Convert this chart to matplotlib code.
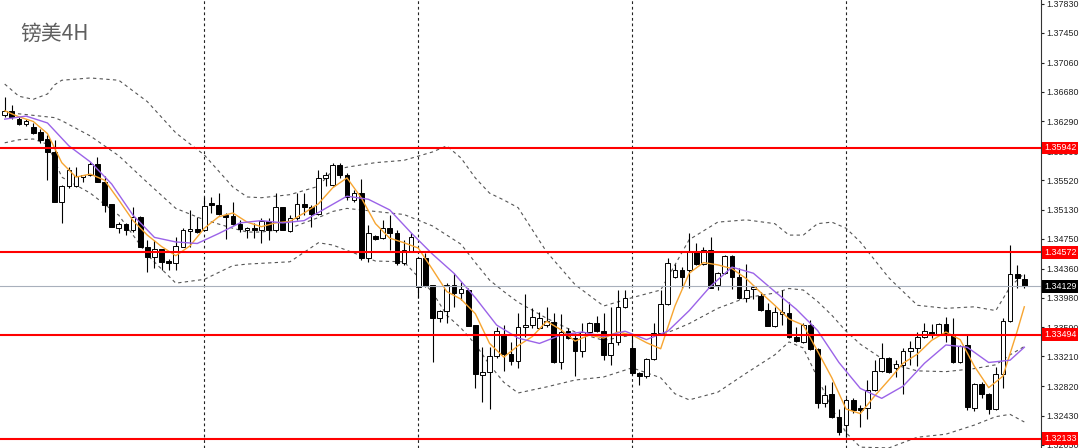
import matplotlib
matplotlib.use("Agg")
import matplotlib.pyplot as plt
from matplotlib.transforms import blended_transform_factory
import numpy as np

# --- chart data (GBP/USD, 4H bars) ---
TITLE = "镑美4H"

opens = [1.3637, 1.3643, 1.3632, 1.3626, 1.3622, 1.3615, 1.3606, 1.3589, 1.3523, 1.3544,
         1.3544, 1.3556, 1.3559, 1.3573, 1.3550, 1.3521, 1.3489, 1.3495, 1.3487, 1.3504,
         1.3464, 1.3451, 1.3462, 1.3446, 1.3443, 1.3464, 1.3485, 1.3488, 1.3487, 1.3522,
         1.3519, 1.3506, 1.3505, 1.3495, 1.3487, 1.3489, 1.3487, 1.3499, 1.3487, 1.3517,
         1.3485, 1.3502, 1.3521, 1.3517, 1.3508, 1.3555, 1.3546, 1.3572, 1.3559, 1.3526,
         1.3535, 1.3450, 1.3479, 1.3476, 1.3489, 1.3483, 1.3443, 1.3458, 1.3412, 1.3450,
         1.3415, 1.3371, 1.3380, 1.3415, 1.3404, 1.3408, 1.3362, 1.3297, 1.3300, 1.3321,
         1.3350, 1.3324, 1.3315, 1.3359, 1.3362, 1.3358, 1.3362, 1.3366, 1.3314, 1.3354,
         1.3345, 1.3328, 1.3353, 1.3365, 1.3354, 1.3323, 1.3340, 1.3386, 1.3332, 1.3299,
         1.3295, 1.3318, 1.3352, 1.3390, 1.3425, 1.3434, 1.3434, 1.3459, 1.3442, 1.3460,
         1.3415, 1.3430, 1.3453, 1.3425, 1.3398, 1.3409, 1.3400, 1.3382, 1.3361, 1.3377,
         1.3378, 1.3346, 1.3340, 1.3362, 1.3331, 1.3260, 1.3272, 1.3242, 1.3231, 1.3264,
         1.3253, 1.3253, 1.3277, 1.3302, 1.3319, 1.3306, 1.3310, 1.3328, 1.3332, 1.3346,
         1.3353, 1.3350, 1.3363, 1.3350, 1.3314, 1.3336, 1.3253, 1.3285, 1.3272, 1.3252,
         1.3298, 1.3367, 1.3429, 1.3422]
highs = [1.3661, 1.3651, 1.3635, 1.3632, 1.3627, 1.3619, 1.3611, 1.3605, 1.3546, 1.3569,
         1.3569, 1.3559, 1.3576, 1.3582, 1.3558, 1.3521, 1.3497, 1.3496, 1.3517, 1.3505,
         1.3474, 1.3474, 1.3462, 1.3449, 1.3478, 1.3489, 1.3513, 1.3504, 1.3530, 1.3530,
         1.3535, 1.3509, 1.3523, 1.3500, 1.3491, 1.3496, 1.3502, 1.3502, 1.3535, 1.3517,
         1.3506, 1.3535, 1.3535, 1.3519, 1.3565, 1.3563, 1.3575, 1.3575, 1.3561, 1.3539,
         1.3554, 1.3493, 1.3480, 1.3500, 1.3506, 1.3487, 1.3474, 1.3483, 1.3451, 1.3457,
         1.3415, 1.3382, 1.3417, 1.3430, 1.3418, 1.3410, 1.3362, 1.3333, 1.3333, 1.3359,
         1.3362, 1.3340, 1.3378, 1.3403, 1.3384, 1.3379, 1.3386, 1.3378, 1.3377, 1.3358,
         1.3352, 1.3365, 1.3366, 1.3374, 1.3378, 1.3386, 1.3408, 1.3408, 1.3349, 1.3300,
         1.3319, 1.3365, 1.3408, 1.3450, 1.3442, 1.3438, 1.3483, 1.3470, 1.3464, 1.3478,
         1.3432, 1.3454, 1.3454, 1.3437, 1.3442, 1.3415, 1.3405, 1.3391, 1.3386, 1.3408,
         1.3392, 1.3359, 1.3365, 1.3369, 1.3332, 1.3284, 1.3287, 1.3252, 1.3266, 1.3266,
         1.3257, 1.3290, 1.3316, 1.3339, 1.3320, 1.3316, 1.3332, 1.3341, 1.3353, 1.3365,
         1.3363, 1.3365, 1.3373, 1.3371, 1.3336, 1.3349, 1.3286, 1.3287, 1.3273, 1.3307,
         1.3371, 1.3467, 1.3441, 1.3429]
lows = [1.3635, 1.3632, 1.3624, 1.3623, 1.3613, 1.3601, 1.3552, 1.3523, 1.3496, 1.3542,
        1.3543, 1.3550, 1.3558, 1.3550, 1.3510, 1.3491, 1.3483, 1.3480, 1.3484, 1.3464,
        1.3432, 1.3437, 1.3434, 1.3434, 1.3434, 1.3464, 1.3464, 1.3483, 1.3485, 1.3509,
        1.3506, 1.3475, 1.3493, 1.3484, 1.3476, 1.3476, 1.3470, 1.3474, 1.3484, 1.3487,
        1.3484, 1.3500, 1.3506, 1.3491, 1.3506, 1.3544, 1.3544, 1.3555, 1.3526, 1.3523,
        1.3447, 1.3445, 1.3474, 1.3475, 1.3460, 1.3441, 1.3441, 1.3458, 1.3398, 1.3412,
        1.3314, 1.3366, 1.3365, 1.3386, 1.3395, 1.3361, 1.3280, 1.3261, 1.3252, 1.3319,
        1.3302, 1.3310, 1.3306, 1.3346, 1.3358, 1.3357, 1.3359, 1.3312, 1.3304, 1.3344,
        1.3295, 1.3320, 1.3352, 1.3353, 1.3316, 1.3310, 1.3336, 1.3384, 1.3297, 1.3284,
        1.3293, 1.3316, 1.3349, 1.3388, 1.3424, 1.3411, 1.3411, 1.3441, 1.3441, 1.3411,
        1.3408, 1.3429, 1.3409, 1.3396, 1.3392, 1.3396, 1.3380, 1.3361, 1.3359, 1.3362,
        1.3345, 1.3340, 1.3339, 1.3329, 1.3253, 1.3255, 1.3240, 1.3218, 1.3215, 1.3247,
        1.3228, 1.3239, 1.3276, 1.3300, 1.3299, 1.3294, 1.3272, 1.3310, 1.3308, 1.3345,
        1.3345, 1.3349, 1.3340, 1.3312, 1.3312, 1.3251, 1.3249, 1.3266, 1.3245, 1.3251,
        1.3280, 1.3366, 1.3411, 1.3411]
closes = [1.3643, 1.3635, 1.3626, 1.3630, 1.3614, 1.3605, 1.3589, 1.3523, 1.3544, 1.3565,
          1.3558, 1.3559, 1.3573, 1.3550, 1.3519, 1.3491, 1.3495, 1.3487, 1.3504, 1.3464,
          1.3451, 1.3462, 1.3445, 1.3443, 1.3466, 1.3487, 1.3488, 1.3484, 1.3518, 1.3519,
          1.3508, 1.3504, 1.3495, 1.3488, 1.3489, 1.3487, 1.3499, 1.3487, 1.3517, 1.3487,
          1.3502, 1.3521, 1.3517, 1.3508, 1.3555, 1.3559, 1.3572, 1.3559, 1.3530, 1.3535,
          1.3450, 1.3483, 1.3475, 1.3489, 1.3483, 1.3443, 1.3460, 1.3478, 1.3450, 1.3413,
          1.3371, 1.3380, 1.3415, 1.3404, 1.3409, 1.3361, 1.3298, 1.3300, 1.3321, 1.3354,
          1.3324, 1.3315, 1.3359, 1.3362, 1.3373, 1.3371, 1.3367, 1.3314, 1.3353, 1.3345,
          1.3328, 1.3353, 1.3365, 1.3354, 1.3323, 1.3339, 1.3386, 1.3398, 1.3299, 1.3295,
          1.3318, 1.3352, 1.3390, 1.3443, 1.3434, 1.3425, 1.3459, 1.3442, 1.3460, 1.3411,
          1.3430, 1.3453, 1.3425, 1.3398, 1.3408, 1.3412, 1.3382, 1.3361, 1.3379, 1.3379,
          1.3346, 1.3341, 1.3362, 1.3331, 1.3260, 1.3270, 1.3242, 1.3222, 1.3264, 1.3251,
          1.3251, 1.3277, 1.3302, 1.3319, 1.3300, 1.3311, 1.3328, 1.3332, 1.3346, 1.3354,
          1.3350, 1.3363, 1.3350, 1.3314, 1.3335, 1.3255, 1.3285, 1.3272, 1.3252, 1.3298,
          1.3367, 1.3429, 1.3424, 1.3413]

# Bollinger bands, read at selected bars
band_idx = [0, 2, 4, 6, 7, 8, 12, 16, 20, 24, 28, 32, 34, 36, 40, 44, 46, 48, 52, 56,
            60, 62, 64, 66, 68, 70, 72, 76, 80, 84, 88, 92, 94, 96, 100, 104, 108, 110, 112, 114,
            116, 118, 120, 124, 128, 132, 136, 139, 141, 143]
bb_upper = [1.3678, 1.3662, 1.3658, 1.3665, 1.3677, 1.3683, 1.3686, 1.3683, 1.3655, 1.3614,
            1.3585, 1.3543, 1.3530, 1.3529, 1.3533, 1.3544, 1.3565, 1.3569, 1.3575, 1.3578,
            1.3589, 1.3597, 1.3581, 1.3555, 1.3535, 1.3526, 1.3516, 1.3458, 1.3415, 1.3387,
            1.3398, 1.3408, 1.3441, 1.3474, 1.3497, 1.3500, 1.3495, 1.3480, 1.3480, 1.3495,
            1.3497, 1.3489, 1.3471, 1.3424, 1.3388, 1.3384, 1.3386, 1.3381, 1.3412, 1.3430]
bb_middle = [1.3641, 1.3639, 1.3637, 1.3635, 1.3634, 1.3630, 1.3610, 1.3584, 1.3549, 1.3515,
             1.3500, 1.3489, 1.3484, 1.3484, 1.3489, 1.3503, 1.3511, 1.3515, 1.3511, 1.3507,
             1.3492, 1.3480, 1.3468, 1.3444, 1.3421, 1.3406, 1.3392, 1.3371, 1.3353, 1.3342,
             1.3349, 1.3349, 1.3356, 1.3364, 1.3384, 1.3398, 1.3404, 1.3410, 1.3408, 1.3393,
             1.3375, 1.3354, 1.3337, 1.3312, 1.3302, 1.3301, 1.3305, 1.3310, 1.3323, 1.3334]
bb_lower = [1.3601, 1.3605, 1.3606, 1.3599, 1.3578, 1.3556, 1.3535, 1.3506, 1.3454, 1.3417,
            1.3422, 1.3440, 1.3442, 1.3443, 1.3445, 1.3470, 1.3467, 1.3460, 1.3446, 1.3445,
            1.3405, 1.3375, 1.3358, 1.3337, 1.3310, 1.3287, 1.3273, 1.3281, 1.3290, 1.3294,
            1.3306, 1.3293, 1.3272, 1.3264, 1.3274, 1.3299, 1.3323, 1.3340, 1.3332, 1.3293,
            1.3253, 1.3221, 1.3202, 1.3201, 1.3215, 1.3219, 1.3231, 1.3242, 1.3245, 1.3235]

# fast (orange) and slow (purple) moving averages
fast_idx = [0, 1, 2, 3] + list(range(4, 143, 2)) + [143]
fast_ma = [1.3643, 1.3639, 1.3635, 1.3632,
           1.3629, 1.3613, 1.3575, 1.3556, 1.3560, 1.3552, 1.3526, 1.3499, 1.3480, 1.3465,
           1.3453, 1.3466, 1.3489, 1.3504, 1.3509, 1.3497, 1.3491, 1.3496, 1.3498, 1.3509,
           1.3521, 1.3542, 1.3555, 1.3529, 1.3495, 1.3476, 1.3470, 1.3463, 1.3435, 1.3406,
           1.3396, 1.3377, 1.3338, 1.3320, 1.3335, 1.3347, 1.3367, 1.3356, 1.3341, 1.3349,
           1.3345, 1.3353, 1.3349, 1.3339, 1.3331, 1.3387, 1.3430, 1.3444, 1.3441, 1.3436,
           1.3423, 1.3405, 1.3388, 1.3370, 1.3362, 1.3328, 1.3293, 1.3252, 1.3246, 1.3269,
           1.3290, 1.3312, 1.3324, 1.3342, 1.3353, 1.3343, 1.3308, 1.3280, 1.3295, 1.3354,
           1.3386]
slow_idx = list(range(0, 142, 3)) + [143]
slow_ma = [1.3632, 1.3636, 1.3627, 1.3597, 1.3576, 1.3547, 1.3506, 1.3477, 1.3471, 1.3469,
           1.3482, 1.3496, 1.3499, 1.3496, 1.3499, 1.3515, 1.3531, 1.3527, 1.3513, 1.3483,
           1.3455, 1.3430, 1.3398, 1.3362, 1.3345, 1.3338, 1.3349, 1.3353, 1.3347, 1.3354,
           1.3343, 1.3354, 1.3381, 1.3413, 1.3438, 1.3430, 1.3406, 1.3383, 1.3355, 1.3313,
           1.3279, 1.3266, 1.3282, 1.3312, 1.3336, 1.3333, 1.3313, 1.3316, 1.3333]

# levels
red_levels = [1.35942, 1.34572, 1.33494, 1.32133]
last_price = 1.34129
separators = [28, 58, 88, 118]
price_ticks = [1.37830, 1.37450, 1.37060, 1.36680, 1.36290, 1.35900, 1.35520, 1.35130,
               1.34750, 1.34360, 1.33980, 1.33590, 1.33210, 1.32820, 1.32430, 1.32050]

# --- figure ---
W, H = 1080, 448
AX_W = 1041
fig = plt.figure(figsize=(W / 100, H / 100), dpi=100)
fig.patch.set_facecolor("white")
ax = fig.add_axes([0, 0, AX_W / W, 1])
ax.set_facecolor("white")

ax.set_xlim(-0.66, 145.34)
ax.set_ylim(1.32009, 1.37882)

for s in ("top", "left", "bottom"):
    ax.spines[s].set_visible(False)
ax.spines["right"].set_color("#333333")
ax.spines["right"].set_linewidth(0.8)

ax.set_xticks([])
ax.yaxis.tick_right()
ax.set_yticks(price_ticks)
ax.set_yticklabels([f"{t:.5f}" for t in price_ticks], family="Liberation Sans")
ax.tick_params(axis="y", length=2.5, width=0.8, pad=1.5, labelsize=6.4,
               colors="#222222")

# period separators
for s in separators:
    ax.axvline(s, color="#222222", lw=0.8, ls=(0, (2.5, 2.5)), zorder=1)

# bollinger bands
band_style = dict(color="#555555", lw=0.8, ls=(0, (3, 3)), zorder=2)
ax.plot(band_idx, bb_upper, **band_style)
ax.plot(band_idx, bb_middle, **band_style)
ax.plot(band_idx, bb_lower, **band_style)

# candles
x = np.arange(len(closes))
o = np.array(opens)
c = np.array(closes)
bull = c >= o
ax.vlines(x, lows, highs, color="black", lw=0.8, zorder=3)
bottoms = np.minimum(o, c)
heights = np.maximum(np.abs(c - o), 0.00004)
ax.bar(x, heights, bottom=bottoms, width=0.66,
       color=np.where(bull, "white", "black"), edgecolor="black",
       linewidth=0.7, zorder=3.5)

# moving averages
ax.plot(fast_idx, fast_ma, color="#f7a531", lw=1.0, zorder=4)
ax.plot(slow_idx, slow_ma, color="#9b63e8", lw=1.0, zorder=4)

# horizontal levels
ax.axhline(last_price, color="#a8b0bc", lw=0.8, zorder=4.5)
for lv in red_levels:
    ax.axhline(lv, color="#ff0000", lw=1.5, zorder=5)

# price boxes on the scale
trans = blended_transform_factory(ax.transAxes, ax.transData)
box_x = 1 + 3 / AX_W
for lv in red_levels:
    ax.text(box_x, lv, f"{lv:.5f}", transform=trans, ha="left", va="center",
            fontsize=6.4, family="Liberation Sans", color="white", clip_on=False, zorder=10,
            bbox=dict(boxstyle="square,pad=0.2", fc="#ff0000", ec="none"))
ax.text(box_x, last_price, f"{last_price:.5f}", transform=trans, ha="left", va="center",
        fontsize=6.4, family="Liberation Sans", color="white", clip_on=False, zorder=10,
        bbox=dict(boxstyle="square,pad=0.2", fc="black", ec="none"))

# title
fig.text(20 / W, 1 - 34 / H, TITLE, fontsize=15, color="#5f5f5f", va="center", ha="left",
         family=["Noto Sans CJK SC", "DejaVu Sans"])

fig.savefig("out.png", dpi=100, facecolor="white")
